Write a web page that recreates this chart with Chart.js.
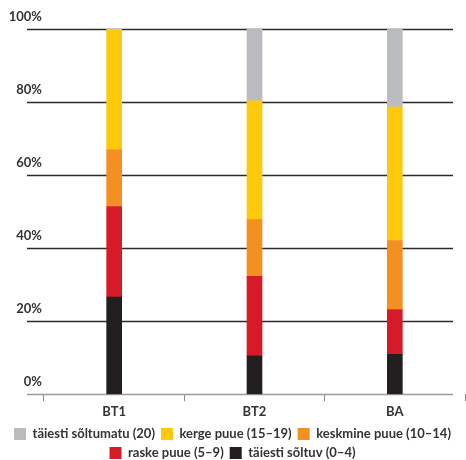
<!DOCTYPE html>
<html>
<head>
<meta charset="utf-8">
<script src="https://cdn.jsdelivr.net/npm/chart.js@4/dist/chart.umd.min.js"></script>
<style>
  html, body { margin: 0; padding: 0; background: #fff; }
  #wrap { width: 466px; height: 460px; }
</style>
</head>
<body>
<div id="wrap"><canvas id="c" width="466" height="460"></canvas></div>
<script>
// Groups on the category axis
const categories = ['BT1', 'BT2', 'BA'];

// Shares (%) per group, stacked from the bottom up
const taiestiSoltuv   = [26.6, 10.5, 10.9];   // täiesti sõltuv (0–4)
const raskePuue       = [24.8, 21.8, 12.3];   // raske puue (5–9)
const keskminePuue    = [15.5, 15.5, 18.9];   // keskmine puue (10–14)
const kergePuue       = [33.1, 32.5, 36.5];   // kerge puue (15–19)
const taiestiSoltumatu = [0.0, 19.7, 21.4];   // täiesti sõltumatu (20)

const yTicks = [0, 20, 40, 60, 80, 100];

const FONT = 'Lato, "Open Sans", sans-serif';
const TEXT = '#333333';

// Horizontal value lines and the base line, drawn a bit wider than the plot area
const linesPlugin = {
  id: 'valueLines',
  beforeDatasetsDraw(chart) {
    const { ctx, scales: { y } } = chart;
    const x0 = 27, x1 = 453;
    ctx.save();
    yTicks.forEach(v => {
      const py = Math.round(y.getPixelForValue(v)) + 0.5;
      ctx.beginPath();
      ctx.lineWidth = v === 0 ? 1.5 : 1.3;
      ctx.strokeStyle = v === 0 ? '#9a9a9a' : '#2b2b2b';
      ctx.moveTo(x0, py);
      ctx.lineTo(x1, py);
      ctx.stroke();
    });
    ctx.restore();
  }
};

const mk = (label, data, color) => ({
  label, data, backgroundColor: color, borderWidth: 0, barThickness: 15
});

new Chart(document.getElementById('c'), {
  type: 'bar',
  data: {
    labels: categories,
    datasets: [
      mk('täiesti sõltuv (0–4)', taiestiSoltuv, '#231f20'),
      mk('raske puue (5–9)', raskePuue, '#d71a28'),
      mk('keskmine puue (10–14)', keskminePuue, '#f39021'),
      mk('kerge puue (15–19)', kergePuue, '#ffc90b'),
      mk('täiesti sõltumatu (20)', taiestiSoltumatu, '#bbbcbf')
    ]
  },
  options: {
    responsive: false,
    animation: false,
    layout: { padding: { left: 0, right: 1, top: 29, bottom: -9.5 } },
    plugins: {
      tooltip: { enabled: false },
      legend: {
        position: 'bottom',
        reverse: true,
        labels: {
          boxWidth: 12,
          boxHeight: 12,
          padding: 6,
          color: TEXT,
          font: { family: FONT, size: 13, weight: 'bold' }
        }
      }
    },
    scales: {
      x: {
        stacked: true,
        grid: {
          display: true,
          offset: true,
          drawOnChartArea: false,
          tickLength: 7,
          color: ctx => (ctx.index === 3 ? 'rgba(0,0,0,0)' : '#8a8a8a')
        },
        border: { display: false },
        ticks: {
          color: TEXT,
          padding: 2,
          font: { family: FONT, size: 13, weight: 'bold', lineHeight: 1.25 }
        }
      },
      y: {
        stacked: true,
        min: 0,
        max: 100,
        afterFit(scale) { scale.width = 44; },
        afterBuildTicks(scale) { scale.ticks = yTicks.map(v => ({ value: v })); },
        grid: { display: false, drawTicks: false },
        border: { display: false },
        ticks: {
          color: TEXT,
          padding: 2,
          labelOffset: -12,
          font: { family: FONT, size: 13, weight: 'bold' },
          callback: v => v + '%'
        }
      }
    }
  },
  plugins: [linesPlugin]
});
</script>
</body>
</html>
